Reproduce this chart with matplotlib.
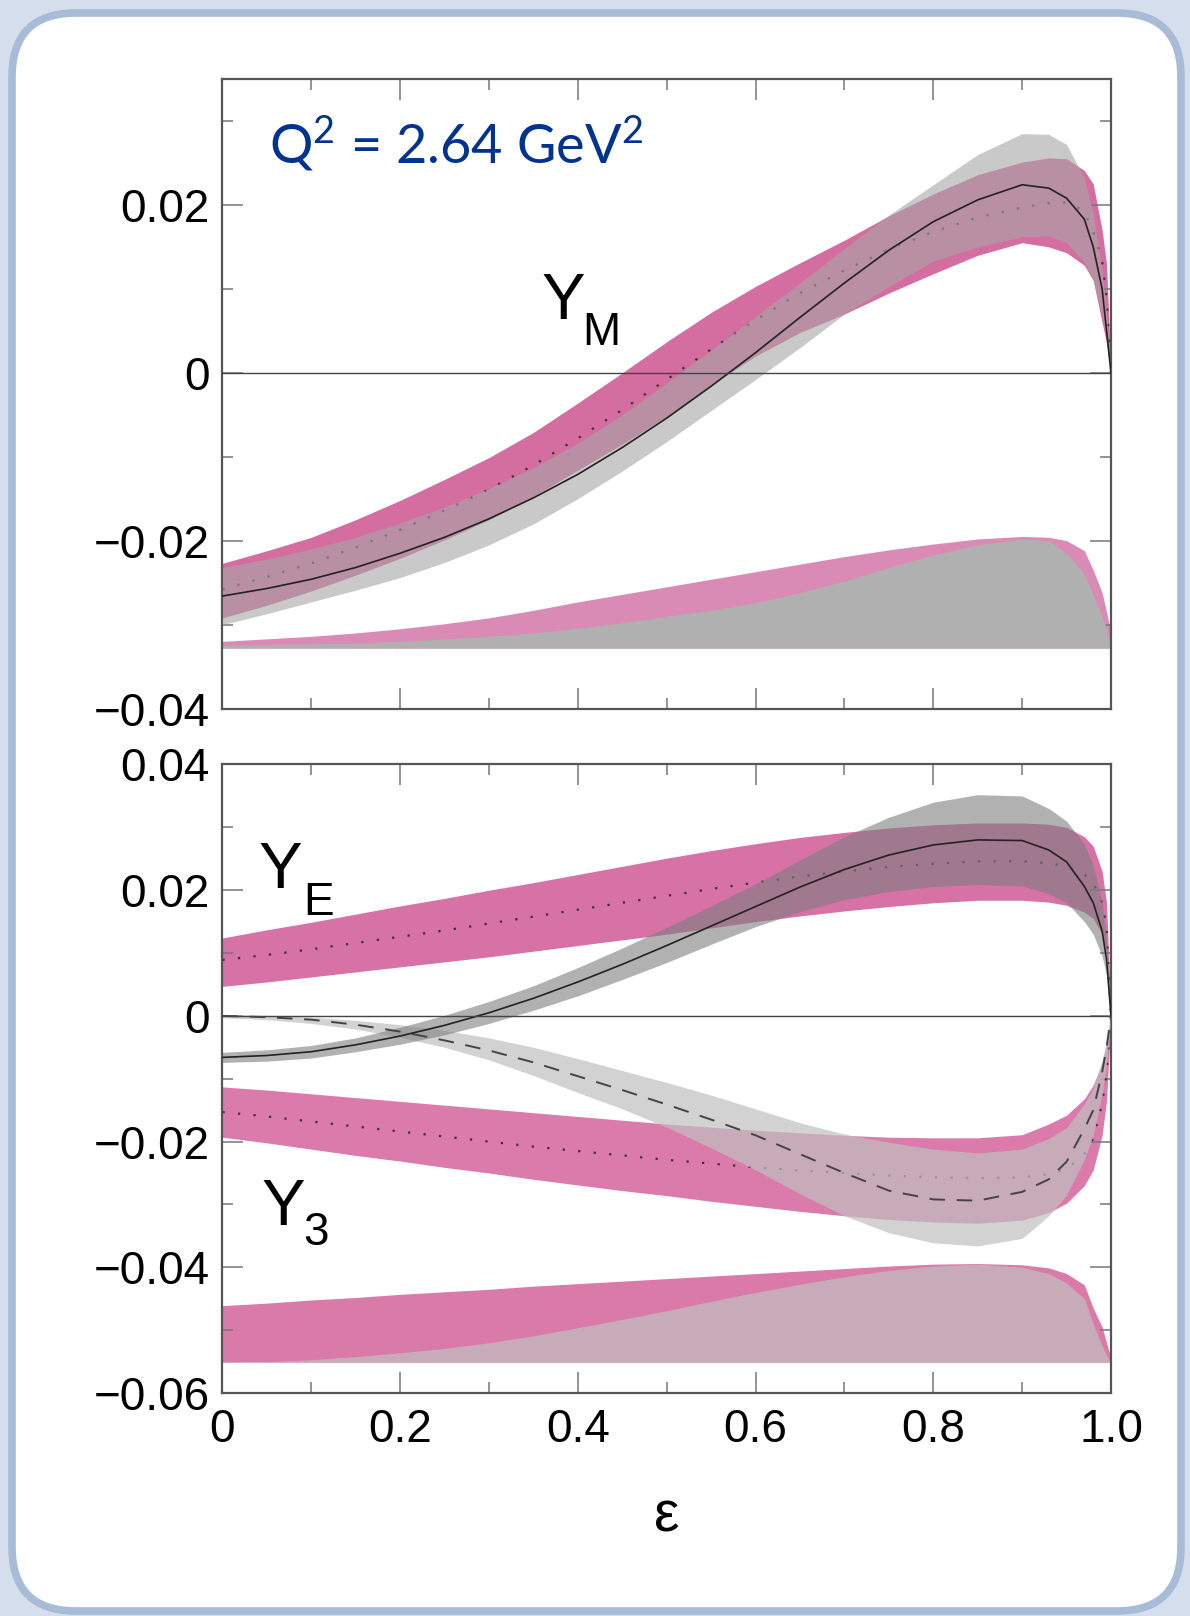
import numpy as np
import matplotlib.pyplot as plt
from matplotlib.patches import FancyBboxPatch

plt.rcParams['font.family'] = ['Liberation Sans', 'DejaVu Sans']
plt.rcParams['mathtext.fontset'] = 'custom'
plt.rcParams['mathtext.rm'] = 'Lato'

eps = np.array([0, 0.05, 0.1, 0.15, 0.2, 0.25, 0.3, 0.35, 0.4, 0.45, 0.5, 0.55, 0.6,
                0.65, 0.7, 0.75, 0.8, 0.85, 0.9, 0.93, 0.95, 0.97, 0.98, 0.99, 0.995, 1.0])

# upper panel: Y_M
ym_pink_hi = [-0.0227, -0.0212, -0.0196, -0.0175, -0.0152, -0.0127, -0.0101, -0.0071,
              -0.0036, 0.0000, 0.0037, 0.0072, 0.0103, 0.0131, 0.0158, 0.0187, 0.0213,
              0.0236, 0.0251, 0.0256, 0.0255, 0.0241, 0.0225, 0.0170, 0.0130, 0.0]
ym_pink_lo = [-0.0292, -0.0277, -0.0260, -0.0241, -0.0221, -0.0199, -0.0175, -0.0147,
              -0.0116, -0.0085, -0.0052, -0.0015, 0.0020, 0.0048, 0.0070, 0.0095, 0.0118,
              0.0140, 0.0155, 0.0150, 0.0143, 0.0128, 0.0110, 0.0060, 0.0035, 0.0]
ym_pink_mid = [-0.0258, -0.0243, -0.0227, -0.0208, -0.0187, -0.0164, -0.0139, -0.0110,
               -0.0078, -0.0044, -0.0008, 0.0028, 0.0063, 0.0095, 0.0122, 0.0147, 0.0168,
               0.0185, 0.0197, 0.0202, 0.0203, 0.0193, 0.0168, 0.0133, 0.0090, 0.0]
ym_gray_hi = [-0.0232, -0.0222, -0.0210, -0.0196, -0.0179, -0.0160, -0.0138, -0.0113,
              -0.0084, -0.0050, -0.0012, 0.0027, 0.0067, 0.0107, 0.0148, 0.0188, 0.0224,
              0.0260, 0.0285, 0.0284, 0.0272, 0.0232, 0.0190, 0.0120, 0.0070, 0.0]
ym_gray_lo = [-0.0300, -0.0287, -0.0273, -0.0259, -0.0244, -0.0226, -0.0205, -0.0180,
              -0.0150, -0.0117, -0.0082, -0.0045, -0.0008, 0.0030, 0.0070, 0.0103, 0.0133,
              0.0150, 0.0162, 0.0163, 0.0155, 0.0132, 0.0110, 0.0070, 0.0040, 0.0]
ym_gray_mid = [-0.0266, -0.0257, -0.0246, -0.0232, -0.0215, -0.0196, -0.0174, -0.0149,
               -0.0121, -0.0089, -0.0054, -0.0016, 0.0024, 0.0066, 0.0107, 0.0146, 0.0180,
               0.0206, 0.0224, 0.0220, 0.0208, 0.0183, 0.0150, 0.0100, 0.0050, 0.0]

# upper panel: spread bands at the bottom
ym_base = -0.0328
ym_spread_pink = [-0.0320, -0.0317, -0.0314, -0.0310, -0.0305, -0.0299, -0.0292, -0.0283,
                  -0.0273, -0.0264, -0.0255, -0.0246, -0.0237, -0.0228, -0.0219, -0.0211,
                  -0.0204, -0.0198, -0.0195, -0.0196, -0.0200, -0.0212, -0.0235, -0.0262,
                  -0.0285, -0.0310]
ym_spread_gray = [-0.0325, -0.0324, -0.0323, -0.0322, -0.0320, -0.0317, -0.0314, -0.0310,
                  -0.0304, -0.0298, -0.0290, -0.0283, -0.0274, -0.0262, -0.0248, -0.0232,
                  -0.0217, -0.0205, -0.0198, -0.0200, -0.0215, -0.0240, -0.0265, -0.0290,
                  -0.0305, -0.0328]

# lower panel: Y_E
ye_pink_hi = [0.0124, 0.0137, 0.0149, 0.0162, 0.0175, 0.0187, 0.0200, 0.0212, 0.0225,
              0.0238, 0.0251, 0.0263, 0.0274, 0.0284, 0.0292, 0.0299, 0.0304, 0.0307,
              0.0307, 0.0305, 0.0300, 0.0285, 0.0270, 0.0230, 0.0180, 0.0]
ye_pink_lo = [0.0047, 0.0054, 0.0062, 0.0070, 0.0078, 0.0086, 0.0094, 0.0103, 0.0112,
              0.0121, 0.0130, 0.0140, 0.0150, 0.0159, 0.0167, 0.0174, 0.0180, 0.0184,
              0.0184, 0.0181, 0.0176, 0.0165, 0.0155, 0.0130, 0.0100, 0.0]
ye_pink_mid = [0.0089, 0.0097, 0.0106, 0.0116, 0.0126, 0.0136, 0.0147, 0.0158, 0.0169,
               0.0180, 0.0191, 0.0202, 0.0212, 0.0222, 0.0230, 0.0237, 0.0242, 0.0246,
               0.0246, 0.0243, 0.0238, 0.0225, 0.0212, 0.0180, 0.0140, 0.0]
ye_gray_hi = [-0.0058, -0.0054, -0.0047, -0.0035, -0.0018, 0.0001, 0.0023, 0.0048, 0.0077,
              0.0108, 0.0141, 0.0175, 0.0210, 0.0248, 0.0285, 0.0316, 0.0340, 0.0352,
              0.0350, 0.0330, 0.0310, 0.0273, 0.0240, 0.0180, 0.0120, 0.0]
ye_gray_lo = [-0.0074, -0.0072, -0.0067, -0.0057, -0.0045, -0.0030, -0.0012, 0.0009,
              0.0032, 0.0058, 0.0085, 0.0114, 0.0142, 0.0166, 0.0185, 0.0198, 0.0206,
              0.0209, 0.0207, 0.0194, 0.0180, 0.0150, 0.0130, 0.0095, 0.0065, 0.0]
ye_gray_mid = [-0.0066, -0.0063, -0.0057, -0.0046, -0.0032, -0.0015, 0.0005, 0.0028,
               0.0054, 0.0082, 0.0112, 0.0143, 0.0174, 0.0205, 0.0233, 0.0256, 0.0272,
               0.0280, 0.0279, 0.0264, 0.0245, 0.0206, 0.0180, 0.0135, 0.0090, 0.0]

# lower panel: Y_3
y3_pink_hi = [-0.0113, -0.0118, -0.0124, -0.0130, -0.0136, -0.0142, -0.0148, -0.0154,
              -0.0160, -0.0166, -0.0172, -0.0177, -0.0182, -0.0186, -0.0190, -0.0193,
              -0.0194, -0.0194, -0.0189, -0.0172, -0.0158, -0.0132, -0.0110, -0.0075,
              -0.0045, 0.0]
y3_pink_lo = [-0.0193, -0.0202, -0.0212, -0.0222, -0.0231, -0.0241, -0.0250, -0.0260,
              -0.0269, -0.0278, -0.0286, -0.0295, -0.0303, -0.0311, -0.0318, -0.0324,
              -0.0328, -0.0330, -0.0325, -0.0313, -0.0298, -0.0270, -0.0245, -0.0190,
              -0.0135, 0.0]
y3_pink_mid = [-0.0153, -0.0160, -0.0168, -0.0176, -0.0184, -0.0192, -0.0200, -0.0208,
               -0.0215, -0.0222, -0.0229, -0.0235, -0.0241, -0.0246, -0.0250, -0.0254,
               -0.0257, -0.0258, -0.0257, -0.0252, -0.0244, -0.0220, -0.0195, -0.0140,
               -0.0090, 0.0]
y3_gray_hi = [0.0002, 0.0001, -0.0002, -0.0007, -0.0014, -0.0023, -0.0035, -0.0050,
              -0.0068, -0.0087, -0.0106, -0.0126, -0.0148, -0.0170, -0.0188, -0.0201,
              -0.0212, -0.0218, -0.0212, -0.0195, -0.0178, -0.0140, -0.0115, -0.0070,
              -0.0040, 0.0]
y3_gray_lo = [-0.0003, -0.0006, -0.0012, -0.0021, -0.0034, -0.0050, -0.0070, -0.0095,
              -0.0122, -0.0148, -0.0177, -0.0210, -0.0245, -0.0283, -0.0318, -0.0345,
              -0.0361, -0.0366, -0.0354, -0.0318, -0.0285, -0.0228, -0.0190, -0.0125,
              -0.0075, 0.0]
y3_gray_mid = [0.0, -0.0002, -0.0006, -0.0014, -0.0025, -0.0039, -0.0055, -0.0074,
               -0.0096, -0.0118, -0.0141, -0.0165, -0.0190, -0.0220, -0.0250, -0.0278,
               -0.0292, -0.0294, -0.0280, -0.0260, -0.0232, -0.0180, -0.0150, -0.0090,
               -0.0050, 0.0]

# lower panel: spread bands at the bottom
ye_base = -0.0551
ye_spread_pink = [-0.0461, -0.0457, -0.0452, -0.0448, -0.0443, -0.0439, -0.0435, -0.0430,
                  -0.0426, -0.0422, -0.0418, -0.0414, -0.0410, -0.0406, -0.0402, -0.0398,
                  -0.0395, -0.0394, -0.0396, -0.0401, -0.0410, -0.0428, -0.0465, -0.0495,
                  -0.0520, -0.0545]
ye_spread_gray = [-0.0551, -0.0550, -0.0547, -0.0542, -0.0536, -0.0529, -0.0520, -0.0509,
                  -0.0496, -0.0483, -0.0469, -0.0454, -0.0440, -0.0427, -0.0415, -0.0405,
                  -0.0398, -0.0395, -0.0400, -0.0410, -0.0425, -0.0450, -0.0490, -0.0525,
                  -0.0540, -0.0551]

x_ticks = [0, 0.2, 0.4, 0.6, 0.8, 1.0]
x_ticklabels = ['0', '0.2', '0.4', '0.6', '0.8', '1.0']
top_yticks = [0.02, 0.0, -0.02, -0.04]
top_yticklabels = ['0.02', '0', '\u22120.02', '\u22120.04']
bot_yticks = [0.04, 0.02, 0.0, -0.02, -0.04, -0.06]
bot_yticklabels = ['0.04', '0.02', '0', '\u22120.02', '\u22120.04', '\u22120.06']

PINK = '#d46ea0'
LINE = '#222222'

fig = plt.figure(figsize=(11.9, 16.16), dpi=100)
fig.patch.set_facecolor('#d4deec')

# slide frame
bg = fig.add_axes([0, 0, 1, 1])
bg.set_xlim(0, 1190)
bg.set_ylim(0, 1616)
bg.axis('off')
bg.add_patch(FancyBboxPatch((12, 5), 1169, 1598,
                            boxstyle='round,pad=0,rounding_size=64',
                            fc='white', ec='#a9bcd7', lw=5.5))

ax1 = fig.add_axes([0.18697, 0.56157, 0.74664, 0.38954])
ax2 = fig.add_axes([0.18697, 0.13800, 0.74664, 0.38892])


def style_axes(ax, ylim, yticks, ylabels, minor_y):
    ax.set_facecolor('white')
    ax.set_xlim(0, 1)
    ax.set_ylim(*ylim)
    ax.set_xticks(x_ticks)
    ax.set_xticks([0.1, 0.3, 0.5, 0.7, 0.9], minor=True)
    ax.set_yticks(yticks)
    ax.set_yticklabels(ylabels)
    ax.set_yticks(minor_y, minor=True)
    ax.tick_params(which='both', direction='in', top=True, right=True,
                   color='#777777', width=1.1, labelsize=33)
    ax.tick_params(which='major', length=15)
    ax.tick_params(which='minor', length=8)
    ax.tick_params(axis='y', pad=9)
    ax.tick_params(axis='x', pad=11)
    for s in ax.spines.values():
        s.set_color('#555555')
        s.set_linewidth(1.6)
    ax.axhline(0, color='#444444', lw=1.0, zorder=6)


style_axes(ax1, (-0.04, 0.035), top_yticks, top_yticklabels, [0.03, 0.01, -0.01, -0.03])
style_axes(ax2, (-0.06, 0.04), bot_yticks, bot_yticklabels,
           [0.03, 0.01, -0.01, -0.03, -0.05])
ax1.set_xticklabels([])
ax2.set_xticklabels(x_ticklabels)

dotted = (0, (1, 6))
dashed = (0, (8, 6))

# --- upper panel ---
ax1.fill_between(eps, ym_base, ym_spread_pink, color='#d98bb5', lw=0, zorder=1)
ax1.fill_between(eps, ym_base, ym_spread_gray, color='#b0b0b0', lw=0, zorder=2)

ax1.fill_between(eps, ym_pink_lo, ym_pink_hi, color=PINK, lw=0, zorder=1)
ax1.plot(eps, ym_pink_mid, color='#333333', lw=1.6, ls=dotted, zorder=2)
ax1.fill_between(eps, ym_gray_lo, ym_gray_hi, color='#a6a6a6', alpha=0.6, lw=0, zorder=3)
ax1.plot(eps, ym_gray_mid, color=LINE, lw=1.2, zorder=4)

ax1.text(0.0523, 0.0250, 'Q$^2$ = 2.64 GeV$^2$', family=['Lato', 'DejaVu Sans'],
         fontsize=39, color='#00338d', va='baseline', ha='left')
ax1.text(0.359, 0.0064, 'Y', fontsize=47, va='baseline', ha='left')
ax1.text(0.405, 0.0033, 'M', fontsize=33, va='baseline', ha='left')

# --- lower panel ---
ax2.fill_between(eps, ye_base, ye_spread_pink, color='#d97aa9', lw=0, zorder=1)
ax2.fill_between(eps, ye_base, ye_spread_gray, color='#c0c0c0', alpha=0.7, lw=0, zorder=2)

ax2.fill_between(eps, ye_pink_lo, ye_pink_hi, color='#d672a6', lw=0, zorder=1)
ax2.plot(eps, ye_pink_mid, color='#333333', lw=1.6, ls=dotted, zorder=2)
ax2.fill_between(eps, y3_pink_lo, y3_pink_hi, color='#da7bab', lw=0, zorder=1)
ax2.plot(eps, y3_pink_mid, color='#333333', lw=1.6, ls=dotted, zorder=2)

ax2.fill_between(eps, y3_gray_lo, y3_gray_hi, color='#c0c0c0', alpha=0.7, lw=0, zorder=3)
ax2.plot(eps, y3_gray_mid, color='#444444', lw=1.4, ls=dashed, zorder=4)
ax2.fill_between(eps, ye_gray_lo, ye_gray_hi, color='#7e7e7e', alpha=0.6, lw=0, zorder=3)
ax2.plot(eps, ye_gray_mid, color=LINE, lw=1.2, zorder=4)

ax2.text(0.0406, 0.0203, 'Y', fontsize=47, va='baseline', ha='left')
ax2.text(0.0913, 0.0161, 'E', fontsize=33, va='baseline', ha='left')
ax2.text(0.0444, -0.0332, 'Y', fontsize=47, va='baseline', ha='left')
ax2.text(0.0913, -0.0364, '3', fontsize=33, va='baseline', ha='left')

ax2.text(0.5, -0.0797, '\u03b5', fontsize=41, va='center', ha='center')

fig.savefig('out.png', dpi=100, facecolor=fig.get_facecolor())
